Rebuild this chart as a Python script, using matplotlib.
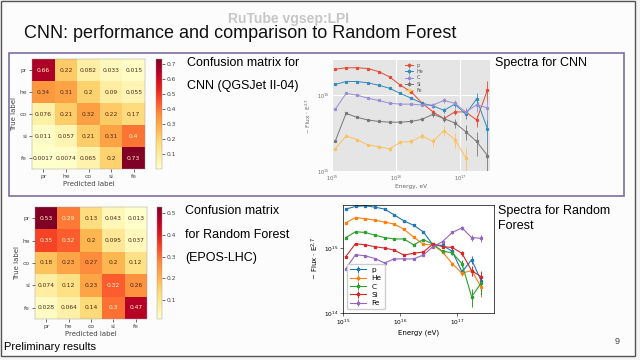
import numpy as np
import matplotlib
matplotlib.use("Agg")
import matplotlib.pyplot as plt
from matplotlib.patches import Rectangle

W, H = 640, 360
FONT = "Liberation Sans"

# ---------------- data ----------------
classes = ["pr", "he", "co", "si", "fe"]
cm_cnn = [[0.66, 0.22, 0.082, 0.033, 0.015],
          [0.34, 0.31, 0.2, 0.09, 0.055],
          [0.076, 0.21, 0.32, 0.22, 0.17],
          [0.011, 0.057, 0.21, 0.31, 0.4],
          [0.0017, 0.0074, 0.065, 0.2, 0.73]]
cm_rf = [[0.53, 0.29, 0.13, 0.043, 0.013],
         [0.35, 0.32, 0.2, 0.095, 0.037],
         [0.18, 0.23, 0.27, 0.2, 0.12],
         [0.074, 0.12, 0.23, 0.32, 0.26],
         [0.028, 0.064, 0.14, 0.3, 0.47]]

species = ["p", "He", "C", "Si", "Fe"]
energy = [1.12e15, 1.66e15, 2.45e15, 3.63e15, 5.37e15, 7.94e15, 1.17e16, 1.74e16,
          2.57e16, 3.80e16, 5.62e16, 8.32e16, 1.23e17, 1.82e17, 2.69e17]

cnn_flux = {
    "p":  [2.19e16, 2.29e16, 2.29e16, 2.24e16, 2.04e16, 1.74e16, 1.35e16, 1.10e16,
           7.8e15, 6.0e15, 4.9e15, 6.0e15, 6.0e15, 4.7e15, 1.17e16],
    "He": [1.38e16, 1.51e16, 1.51e16, 1.45e16, 1.35e16, 1.23e16, 1.05e16, 9.1e15,
           7.8e15, 7.2e15, 6.3e15, 7.6e15, 5.6e15, 8.9e15, 3.6e15],
    "C":  [6.5e15, 1.05e16, 1.0e16, 9.1e15, 8.5e15, 7.8e15, 7.6e15, 7.6e15,
           7.4e15, 7.4e15, 8.5e15, 7.8e15, 6.0e15, 7.4e15, 6.8e15],
    "Si": [2.45e15, 5.75e15, 5.1e15, 4.7e15, 4.5e15, 4.4e15, 4.4e15, 4.5e15,
           4.8e15, 5.6e15, 4.9e15, 4.3e15, 3.3e15, 2.45e15, 1.6e15],
    "Fe": [1.95e15, 2.9e15, 2.6e15, 2.2e15, 2.1e15, 1.95e15, 2.4e15, 2.45e15,
           2.9e15, 2.45e15, 3.4e15, 2.6e15, 1.5e15, np.nan, np.nan],
}
cnn_relerr = {
    "p":  [0.01, 0.01, 0.01, 0.01, 0.01, 0.02, 0.02, 0.03, 0.04, 0.06, 0.08, 0.10, 0.12, 0.18, 0.30],
    "He": [0.01, 0.01, 0.01, 0.01, 0.01, 0.02, 0.02, 0.03, 0.04, 0.06, 0.08, 0.10, 0.14, 0.20, 0.35],
    "C":  [0.01, 0.01, 0.01, 0.01, 0.02, 0.02, 0.03, 0.03, 0.04, 0.06, 0.08, 0.10, 0.14, 0.20, 0.30],
    "Si": [0.02, 0.02, 0.02, 0.02, 0.02, 0.03, 0.03, 0.04, 0.05, 0.07, 0.10, 0.14, 0.22, 0.35, 0.50],
    "Fe": [0.03, 0.03, 0.03, 0.03, 0.04, 0.05, 0.06, 0.07, 0.09, 0.12, 0.16, 0.22, 0.35, 0.0, 0.0],
}
rf_flux = {
    "p":  [3.98e15, 4.37e15, 4.47e15, 4.27e15, 3.98e15, 3.24e15, 2.63e15, 2.24e15,
           1.78e15, 1.12e15, 1.10e15, 8.9e14, 4.3e14, 6.6e14, 3.1e14],
    "He": [2.45e15, 2.95e15, 2.82e15, 2.69e15, 2.51e15, 2.34e15, 1.95e15, 1.48e15,
           1.15e15, 1.12e15, 8.7e14, 5.75e14, 4.1e14, 4.5e14, 2.5e14],
    "C":  [1.45e15, 1.78e15, 1.74e15, 1.58e15, 1.45e15, 1.38e15, 1.38e15, 1.12e15,
           1.35e15, 1.15e15, 8.9e14, 8.5e14, 5.75e14, 1.78e14, 2.9e14],
    "Si": [7.4e14, 1.17e15, 1.12e15, 1.05e15, 1.0e15, 9.3e14, 7.8e14, 8.3e14,
           8.7e14, 1.15e15, 1.05e15, 1.02e15, 8.3e14, 4.5e14, 3.6e14],
    "Fe": [4.8e14, 7.9e14, 7.6e14, 6.9e14, 5.9e14, 6.8e14, 6.8e14, 6.8e14,
           7.8e14, 1.05e15, 1.26e15, 1.74e15, 2.04e15, 1.45e15, 1.41e15],
}
rf_relerr = {
    "p":  [0.01, 0.01, 0.01, 0.01, 0.01, 0.01, 0.02, 0.02, 0.03, 0.04, 0.05, 0.07, 0.10, 0.15, 0.22],
    "He": [0.01, 0.01, 0.01, 0.01, 0.01, 0.01, 0.02, 0.02, 0.03, 0.04, 0.05, 0.07, 0.10, 0.18, 0.30],
    "C":  [0.01, 0.01, 0.01, 0.01, 0.01, 0.01, 0.02, 0.02, 0.03, 0.04, 0.05, 0.08, 0.12, 0.30, 0.35],
    "Si": [0.01, 0.01, 0.01, 0.01, 0.01, 0.01, 0.02, 0.02, 0.03, 0.04, 0.05, 0.07, 0.10, 0.18, 0.25],
    "Fe": [0.01, 0.01, 0.01, 0.01, 0.01, 0.01, 0.02, 0.02, 0.03, 0.04, 0.05, 0.06, 0.08, 0.10, 0.12],
}

# ---------------- helpers ----------------
fig = plt.figure(figsize=(6.4, 3.6), dpi=100)
fig.patch.set_facecolor("#f4f4f4")


def px_axes(x0, y0, x1, y1, **kw):
    return fig.add_axes([x0 / W, 1 - y1 / H, (x1 - x0) / W, (y1 - y0) / H], **kw)


def ftext(x, y, s, size, **kw):
    kw.setdefault("family", FONT)
    kw.setdefault("va", "center")
    kw.setdefault("ha", "left")
    fig.text(x / W, 1 - y / H, s, fontsize=size, **kw)


# slide background and frames
bg = px_axes(0, 0, W, H)
bg.set_xlim(0, W)
bg.set_ylim(H, 0)
bg.axis("off")
bg.add_patch(Rectangle((1, 1), 634, 355, facecolor="#fcfcfc", edgecolor="#555555", lw=1.0))
bg.add_patch(Rectangle((9, 53), 615, 143, facecolor="none", edgecolor="#7f6f9f", lw=1.2))

# titles / texts
ftext(228, 19, "RuTube vgsep:LPI", 10, color="#c6c6c6", weight="bold")
ftext(24, 34, "CNN: performance and comparison to Random Forest", 13, color="#111111")
ftext(187, 63, "Confusion matrix for", 9)
ftext(187, 86, "CNN (QGSJet II-04)", 9)
ftext(185, 211, "Confusion matrix", 9)
ftext(185, 235, "for Random Forest", 9)
ftext(185, 258, "(EPOS-LHC)", 9)
ftext(495, 63, "Spectra for CNN", 9)
ftext(498, 211, "Spectra for Random", 9)
ftext(498, 226, "Forest", 9)
ftext(4, 347, "Preliminary results", 8)
ftext(615, 342, "9", 6.5, color="#444444")


# ---------------- confusion matrices ----------------
def confusion(ax_box, cb_box, cm, ticks):
    cm = np.array(cm)
    ax = px_axes(*ax_box)
    cax = px_axes(*cb_box)
    cmap = plt.get_cmap("YlOrRd")
    im = ax.imshow(cm, cmap=cmap, aspect="auto", interpolation="nearest")
    thresh = (cm.max() + cm.min()) / 2.0
    for i in range(cm.shape[0]):
        for j in range(cm.shape[1]):
            col = cmap(0.0) if cm[i, j] >= thresh else "#4a2a1a"
            ax.text(j, i, format(cm[i, j], ".2g"), ha="center", va="center",
                    fontsize=4.3, color=col, family="DejaVu Sans")
    ax.set_xticks(range(len(classes)))
    ax.set_yticks(range(len(classes)))
    ax.set_xticklabels(classes, fontsize=4.3, color="#444444")
    ax.set_yticklabels(classes, fontsize=4.3, color="#444444")
    ax.tick_params(length=2, width=0.4, pad=1.5)
    ax.set_xlabel("Predicted label", fontsize=5, labelpad=1.5, color="#444444")
    ax.set_ylabel("True label", fontsize=5, labelpad=1.5, color="#444444")
    for s in ax.spines.values():
        s.set_linewidth(0.3)
        s.set_color("#999999")
    cb = fig.colorbar(im, cax=cax)
    cb.set_ticks(ticks)
    cb.ax.tick_params(labelsize=4.3, length=2, width=0.4, pad=1.5, labelcolor="#444444")
    cb.outline.set_linewidth(0.3)
    cb.outline.set_edgecolor("#999999")


confusion((32, 59, 145, 169), (156, 59, 162, 169), cm_cnn,
          [0.1, 0.2, 0.3, 0.4, 0.5, 0.6, 0.7])
confusion((35, 207, 147, 319), (157, 207, 162, 319), cm_rf,
          [0.1, 0.2, 0.3, 0.4, 0.5])

# ---------------- spectra CNN (ggplot-like) ----------------
ax1 = px_axes(332, 60, 490, 171)
ax1.set_facecolor("#e5e5e5")
gg_colors = ["#E24A33", "#348ABD", "#988ED5", "#777777", "#FBC15E"]
for name, c in zip(species, gg_colors):
    f = np.array(cnn_flux[name])
    e = f * np.array(cnn_relerr[name])
    ax1.errorbar(energy, f, yerr=e, color=c, marker="s", ms=1.3, lw=0.7,
                 elinewidth=0.6, capsize=0, label=name)
ax1.set_xscale("log")
ax1.set_yscale("log")
ax1.set_xlim(1e15, 2.95e17)
ax1.set_ylim(1e15, 2.9e16)
ax1.grid(True, which="major", color="white", lw=0.8)
ax1.set_axisbelow(True)
for s in ax1.spines.values():
    s.set_visible(False)
ax1.tick_params(labelsize=3.5, length=0, pad=2, labelcolor="#666666")
ax1.minorticks_off()
ax1.set_xlabel("Energy, eV", fontsize=4.2, color="#666666", labelpad=1)
ax1.set_ylabel(r"~ Flux $\cdot$ E$^{2.7}$", fontsize=4.2, color="#666666", labelpad=3)
leg = ax1.legend(loc="upper center", fontsize=3.5, frameon=False,
                 handlelength=1.6, labelspacing=0.25, borderaxespad=0.2,
                 bbox_to_anchor=(0.52, 1.0))
for t in leg.get_texts():
    t.set_color("#555555")

# ---------------- spectra RF (default style) ----------------
ax2 = px_axes(343, 205, 494, 313)
tab_colors = ["#1f77b4", "#ff7f0e", "#2ca02c", "#d62728", "#9467bd"]
for name, c in zip(species, tab_colors):
    f = np.array(rf_flux[name])
    e = f * np.array(rf_relerr[name])
    ax2.errorbar(energy, f, yerr=e, color=c, marker="s", ms=1.4, lw=0.8,
                 elinewidth=0.7, capsize=0, label=name)
ax2.set_xscale("log")
ax2.set_yscale("log")
ax2.set_xlim(1e15, 4.5e17)
ax2.set_ylim(1e14, 4.6e15)
ax2.minorticks_off()
ax2.tick_params(labelsize=4.2, length=2, width=0.4, pad=1.5)
for s in ax2.spines.values():
    s.set_linewidth(0.5)
ax2.set_xlabel("Energy (eV)", fontsize=5, labelpad=2)
ax2.set_ylabel(r"~ Flux $\cdot$ E$^{2.7}$", fontsize=5, labelpad=2)
ax2.legend(loc="lower left", fontsize=5.3, handlelength=2.2, labelspacing=0.3,
           borderpad=0.4, framealpha=1, edgecolor="#cccccc", fancybox=True)

fig.savefig("out.png", dpi=100, facecolor=fig.get_facecolor())
